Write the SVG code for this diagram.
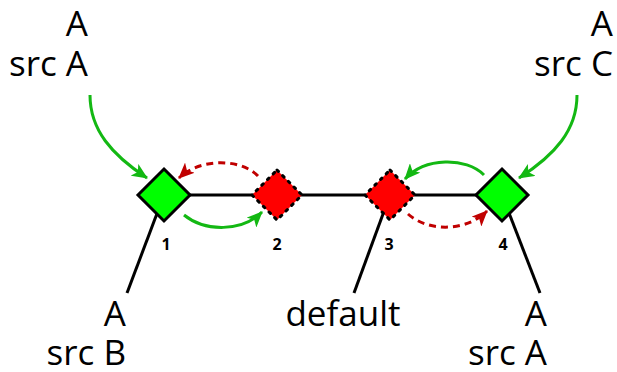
<svg xmlns="http://www.w3.org/2000/svg" width="617" height="372" viewBox="0 0 617 372">
  <style>
    .lbl { font-family: "Open Sans", "Noto Sans", sans-serif; font-size: 35px; fill: #000; }
    .num { font-family: "Open Sans", "Noto Sans", sans-serif; font-size: 16px; font-weight: bold; fill: #000; text-anchor: middle; }
    .wire { stroke: #000; stroke-width: 3; fill: none; }
    .ok { fill: #00ff00; stroke: #000; stroke-width: 3; stroke-linejoin: miter; }
    .bad { fill: #ff0000; stroke: #000; stroke-width: 3; stroke-dasharray: 2 6; stroke-linecap: round; }
    .go { stroke: #13b813; stroke-width: 3; fill: none; marker-end: url(#hg); }
    .back { stroke: #c00000; stroke-width: 3; fill: none; stroke-dasharray: 7 5; marker-end: url(#hr); }
  </style>
  <defs>
    <marker id="hg" markerUnits="userSpaceOnUse" viewBox="0 0 16 14" refX="15" refY="7" markerWidth="16" markerHeight="14" orient="auto">
      <path d="M0,0 L16,7 L0,14 L4,7 z" fill="#13b813"/>
    </marker>
    <marker id="hr" markerUnits="userSpaceOnUse" viewBox="0 0 16 14" refX="15" refY="7" markerWidth="16" markerHeight="14" orient="auto">
      <path d="M0,0 L16,7 L0,14 L4,7 z" fill="#c00000"/>
    </marker>
  </defs>

  <!-- wires between and below the switches -->
  <g id="wires">
    <line class="wire" x1="164" y1="195" x2="502" y2="195"/>
    <line class="wire" x1="164" y1="195" x2="127" y2="293"/>
    <line class="wire" x1="390" y1="195" x2="354" y2="293"/>
    <line class="wire" x1="502" y1="195" x2="540" y2="293"/>
  </g>

  <g id="n1">
    <polygon class="ok" points="164,169 190,195 164,221 138,195"/>
    <text class="num" x="166" y="250">1</text>
  </g>
  <g id="n2">
    <polygon class="bad" points="277,170 302,195 277,220 252,195"/>
    <text class="num" x="277" y="250">2</text>
  </g>
  <g id="n3">
    <polygon class="bad" points="390,170 415,195 390,220 365,195"/>
    <text class="num" x="389" y="250">3</text>
  </g>
  <g id="n4">
    <polygon class="ok" points="502,169 528,195 502,221 476,195"/>
    <text class="num" x="503" y="250">4</text>
  </g>

  <!-- sources -->
  <g id="srcTL">
    <text class="lbl" x="88" y="36" text-anchor="end">A</text>
    <text class="lbl" x="88" y="76" text-anchor="end">src A</text>
  </g>
  <g id="srcTR">
    <text class="lbl" x="613" y="36" text-anchor="end">A</text>
    <text class="lbl" x="613" y="76" text-anchor="end">src C</text>
  </g>
  <g id="srcBL">
    <text class="lbl" x="126" y="326" text-anchor="end">A</text>
    <text class="lbl" x="126" y="365" text-anchor="end">src B</text>
  </g>
  <g id="srcDefault">
    <text class="lbl" x="343" y="326" text-anchor="middle">default</text>
  </g>
  <g id="srcBR">
    <text class="lbl" x="547" y="326" text-anchor="end">A</text>
    <text class="lbl" x="547" y="365" text-anchor="end">src A</text>
  </g>

  <!-- flow arrows -->
  <g id="arrows">
    <path class="go" d="M90,95 C90,130 112,155 147,178"/>
    <path class="go" d="M577,95 C577,130 555,155 519,178"/>
    <path class="go" d="M184,215 C205,232 242,232 262,212"/>
    <path class="back" d="M258,176 C240,158 200,158 179,178"/>
    <path class="go" d="M484,175 C466,157 425,157 405,179"/>
    <path class="back" d="M408,214 C428,232 466,232 487,211"/>
  </g>
</svg>
